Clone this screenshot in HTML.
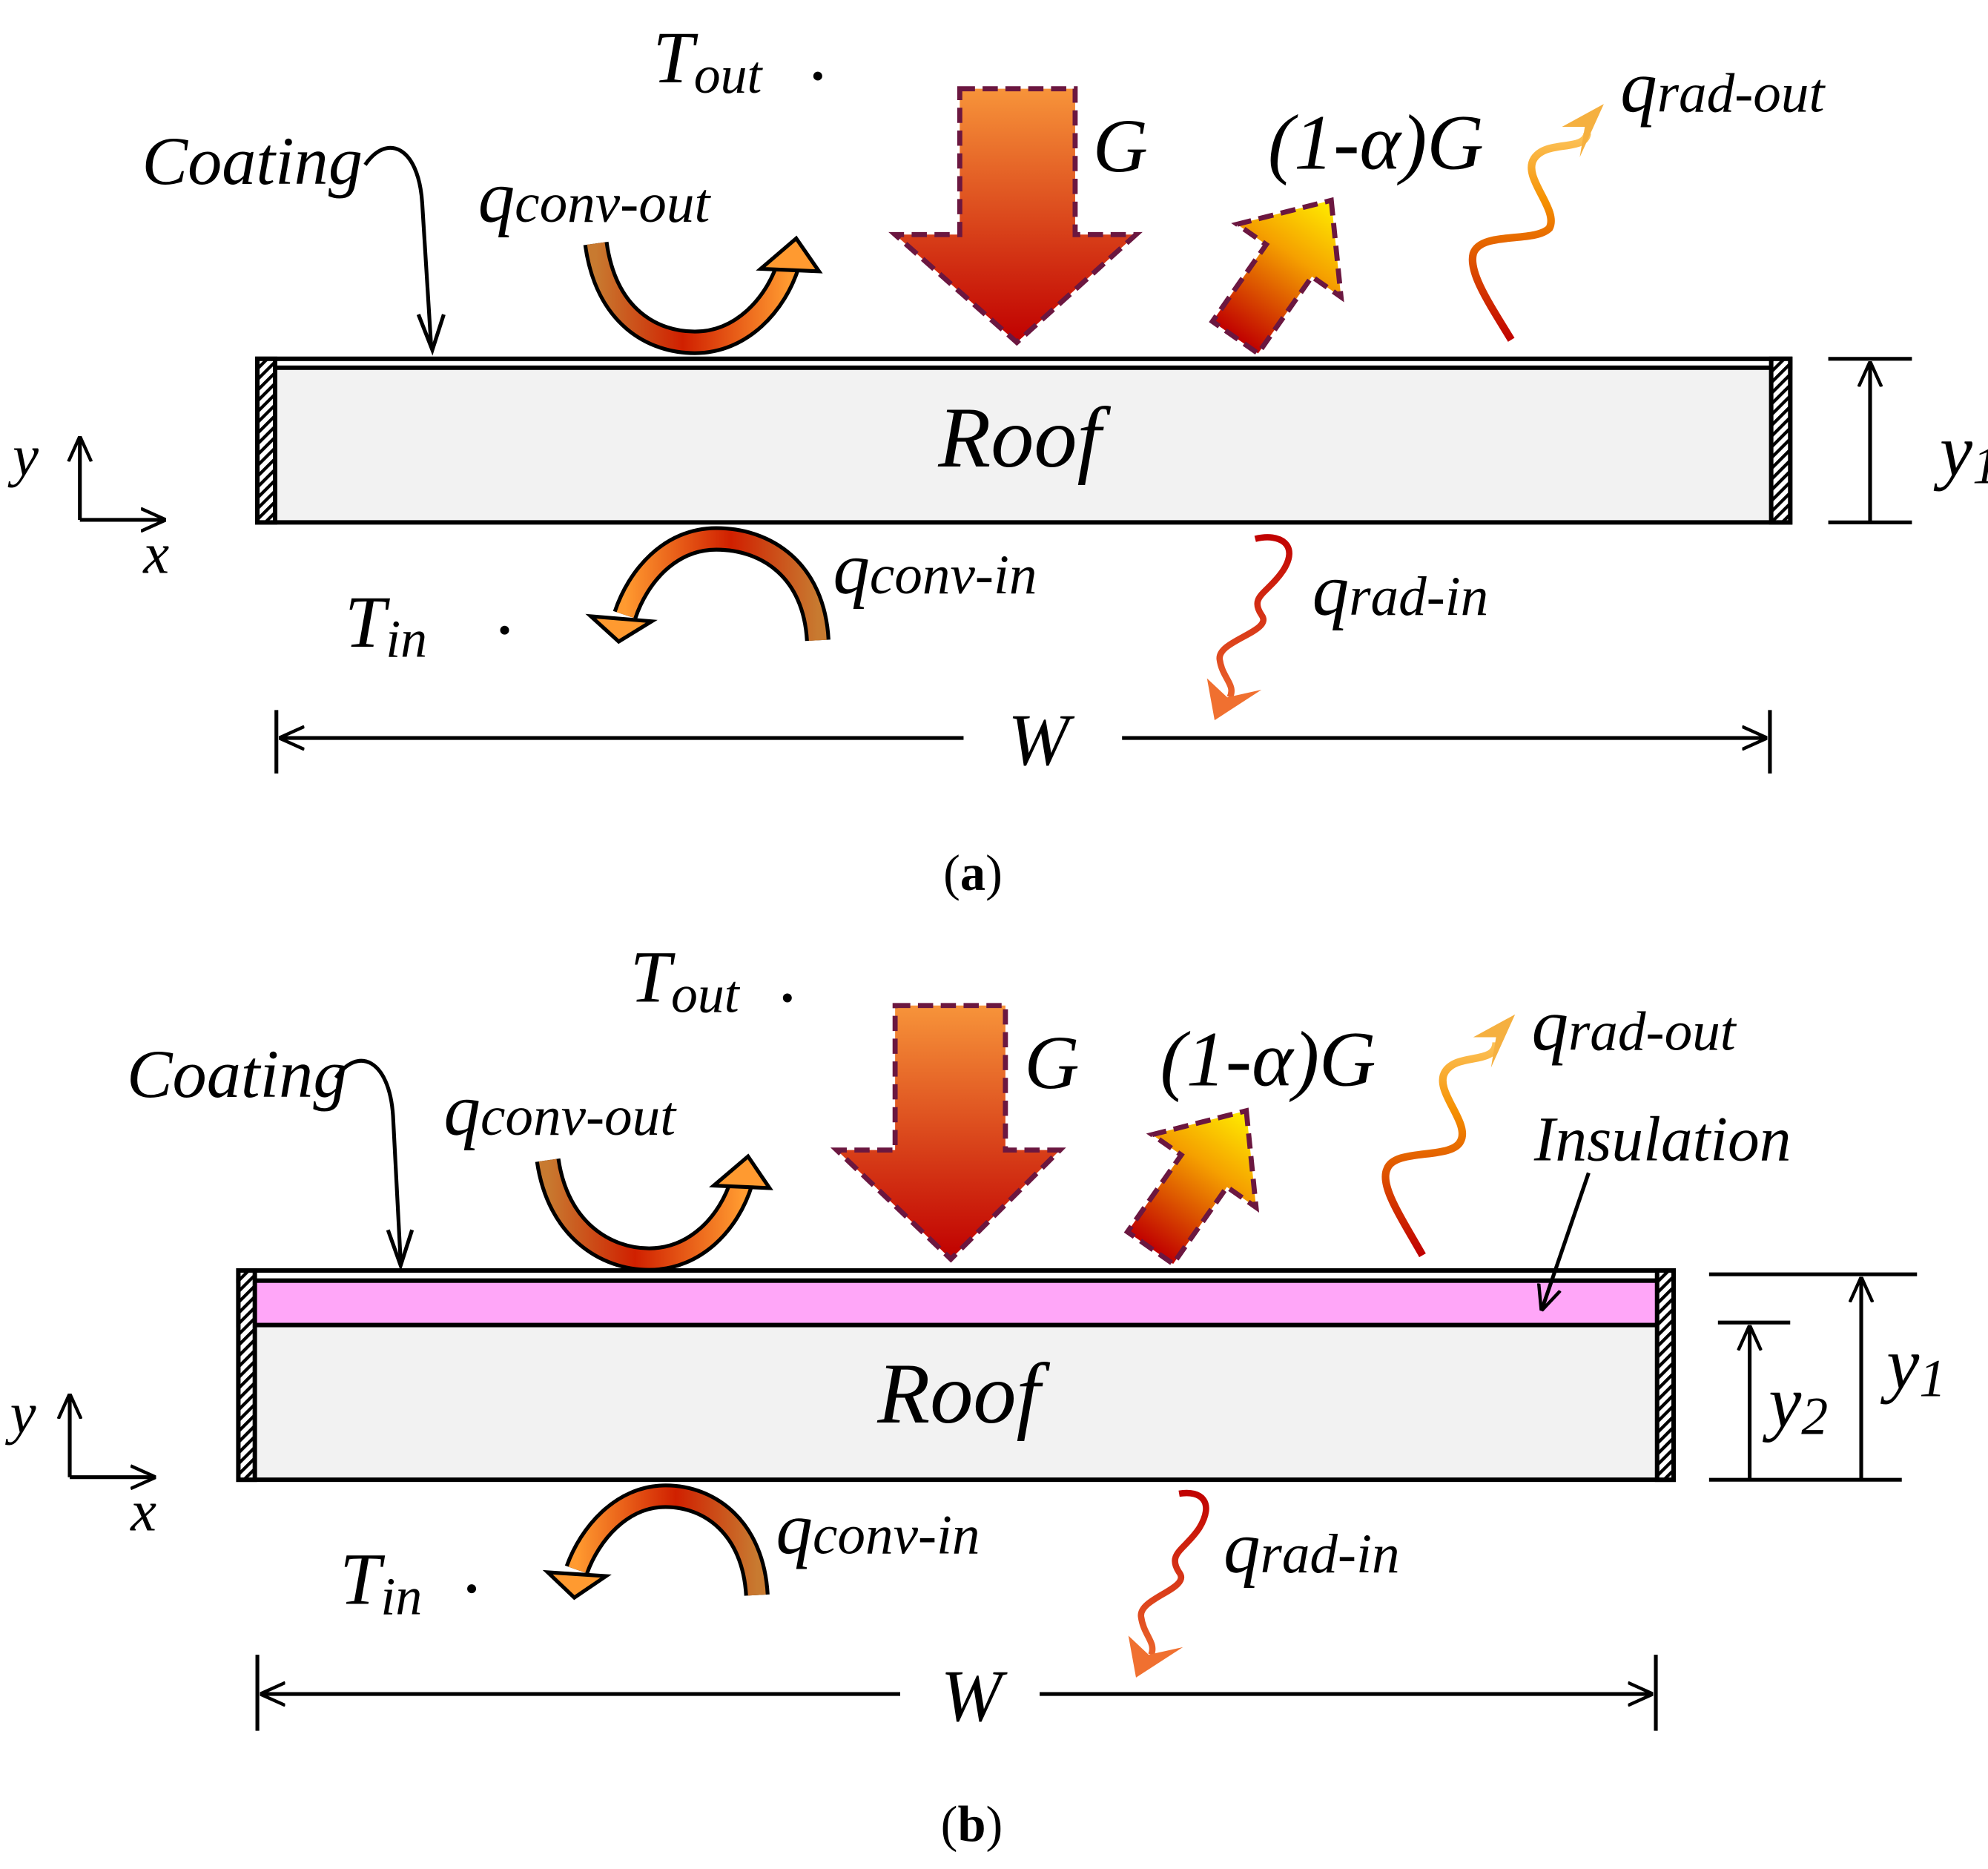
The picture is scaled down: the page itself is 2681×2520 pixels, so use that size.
<!DOCTYPE html>
<html><head><meta charset="utf-8"><style>
html,body{margin:0;padding:0;background:#fff}
svg{display:block}
text{font-family:"Liberation Serif",serif;font-style:italic;fill:#000}
</style></head><body>
<svg width="2681" height="2520" viewBox="0 0 1568 1474" preserveAspectRatio="none" xmlns="http://www.w3.org/2000/svg">
<defs>
<linearGradient id="gv" x1="0" y1="0" x2="0" y2="1"><stop offset="0" stop-color="#f7943a"/><stop offset="1" stop-color="#c00000"/></linearGradient>
<linearGradient id="gd" x1="0" y1="0" x2="0" y2="1"><stop offset="0" stop-color="#ffee00"/><stop offset="0.4" stop-color="#f5a000"/><stop offset="1" stop-color="#c00000"/></linearGradient>
<linearGradient id="gu" x1="0" y1="0" x2="1" y2="0"><stop offset="0" stop-color="#c87a30"/><stop offset="0.45" stop-color="#d02000"/><stop offset="1" stop-color="#ff9a30"/></linearGradient>
<linearGradient id="gu2" x1="0" y1="0" x2="1" y2="0"><stop offset="0" stop-color="#ff9a30"/><stop offset="0.55" stop-color="#d02000"/><stop offset="1" stop-color="#c87a30"/></linearGradient>
<linearGradient id="gw1" gradientUnits="userSpaceOnUse" x1="0" y1="270" x2="0" y2="85"><stop offset="0" stop-color="#c00000"/><stop offset="0.6" stop-color="#f59000"/><stop offset="1" stop-color="#ffd880"/></linearGradient>
<linearGradient id="gw2" gradientUnits="userSpaceOnUse" x1="0" y1="990" x2="0" y2="800"><stop offset="0" stop-color="#c00000"/><stop offset="0.6" stop-color="#f59000"/><stop offset="1" stop-color="#ffd880"/></linearGradient>
<linearGradient id="gr1" gradientUnits="userSpaceOnUse" x1="0" y1="420" x2="0" y2="565"><stop offset="0" stop-color="#c00000"/><stop offset="1" stop-color="#f07030"/></linearGradient>
<linearGradient id="gr2" gradientUnits="userSpaceOnUse" x1="0" y1="1175" x2="0" y2="1320"><stop offset="0" stop-color="#c00000"/><stop offset="1" stop-color="#f07030"/></linearGradient>
<pattern id="hatch" width="6" height="6" patternUnits="userSpaceOnUse" patternTransform="rotate(45)"><rect width="6" height="6" fill="#fff"/><rect width="2.5" height="6" fill="#000"/></pattern>
<marker id="ar" viewBox="0 0 10 10" refX="9.5" refY="5" markerWidth="20" markerHeight="20" orient="auto-start-reverse" markerUnits="userSpaceOnUse"><path d="M0,0.5 L10,5 L0,9.5" fill="none" stroke="#000" stroke-width="1.3"/></marker>
</defs>

<!-- ============ PANEL A ============ -->
<rect x="203" y="283" width="1209" height="129" fill="#f2f2f2" stroke="#000" stroke-width="3.5"/>
<rect x="203" y="283" width="1209" height="7" fill="#fff" stroke="#000" stroke-width="3.5"/>
<rect x="203" y="283" width="14" height="129" fill="url(#hatch)" stroke="#000" stroke-width="3.5"/>
<rect x="1397" y="283" width="15" height="129" fill="url(#hatch)" stroke="#000" stroke-width="3.5"/>
<text x="740" y="368" font-size="68">Roof</text>

<text x="515" y="65" font-size="58">T<tspan font-size="42" dy="8">out</tspan></text>
<circle cx="645" cy="60" r="3.5"/>
<polygon points="757,70 848,70 848,185 896,185 802,270 706,185 757,185" fill="url(#gv)" stroke="#6b1740" stroke-width="4" stroke-dasharray="12,6"/>
<text x="862" y="135" font-size="60">G</text>
<text x="1000" y="133" font-size="62">(1-α)G</text>
<g transform="translate(1050,158) rotate(35)">
<polygon points="0,0 50,58 22,58 22,132 -22,132 -22,58 -50,58" fill="url(#gd)" stroke="#6b1740" stroke-width="4" stroke-dasharray="12,6"/>
</g>
<path d="M1192,268 C1175,240 1158,215 1162,200 C1168,182 1210,192 1222,180 C1230,165 1200,140 1210,125 C1220,110 1250,120 1252,105" fill="none" stroke="url(#gw1)" stroke-width="6"/>
<polygon points="1265,82 1232,100 1250,100 1246,124" fill="#f5b040"/>
<text x="1278" y="88" font-size="58">q<tspan font-size="44">rad-out</tspan></text>
<text x="112" y="145" font-size="54">Coating</text>
<path d="M288,130 C305,105 330,115 333,160 L340,272" fill="none" stroke="#000" stroke-width="3"/>
<path d="M330,248 L341,276 L350,248" fill="none" stroke="#000" stroke-width="3"/>
<text x="377" y="175" font-size="58">q<tspan font-size="44">conv-out</tspan></text>
<path d="M470,192 C478,250 515,270 548,270 C585,270 612,240 622,208" fill="none" stroke="#000" stroke-width="20"/>
<path d="M470,192 C478,250 515,270 548,270 C585,270 612,240 622,208" fill="none" stroke="url(#gu)" stroke-width="14"/>
<polygon points="600,212 646,214 628,188" fill="#ff9a30" stroke="#000" stroke-width="3"/>
<line x1="1442" y1="283" x2="1508" y2="283" stroke="#000" stroke-width="3"/>
<line x1="1442" y1="412" x2="1508" y2="412" stroke="#000" stroke-width="3"/>
<line x1="1475" y1="412" x2="1475" y2="286" stroke="#000" stroke-width="3" marker-end="url(#ar)"/>
<text x="1530" y="375" font-size="58">y<tspan font-size="42" dy="6">1</tspan></text>
<line x1="63" y1="410" x2="63" y2="345" stroke="#000" stroke-width="3" marker-end="url(#ar)"/>
<line x1="63" y1="410" x2="130" y2="410" stroke="#000" stroke-width="3" marker-end="url(#ar)"/>
<text x="10" y="375" font-size="46">y</text>
<text x="113" y="452" font-size="46">x</text>
<path d="M645,505 C642,450 605,425 565,425 C528,425 503,455 493,485" fill="none" stroke="#000" stroke-width="20"/>
<path d="M645,505 C642,450 605,425 565,425 C528,425 503,455 493,485" fill="none" stroke="url(#gu2)" stroke-width="14"/>
<polygon points="466,486 514,490 488,506" fill="#ff9a30" stroke="#000" stroke-width="3"/>
<text x="657" y="468" font-size="58">q<tspan font-size="44">conv-in</tspan></text>
<text x="272" y="510" font-size="58">T<tspan font-size="42" dy="8">in</tspan></text>
<circle cx="398" cy="497" r="3.5"/>
<path d="M990,425 C1010,420 1025,430 1012,450 C1000,468 985,470 995,485 C1005,498 960,505 962,520 C964,535 975,540 970,550" fill="none" stroke="url(#gr1)" stroke-width="5"/>
<polygon points="958,568 952,535 968,550 995,544" fill="#f07030"/>
<text x="1035" y="485" font-size="58">q<tspan font-size="44">rad-in</tspan></text>
<line x1="218" y1="560" x2="218" y2="610" stroke="#000" stroke-width="3"/>
<line x1="1396" y1="560" x2="1396" y2="610" stroke="#000" stroke-width="3"/>
<line x1="760" y1="582" x2="221" y2="582" stroke="#000" stroke-width="3" marker-end="url(#ar)"/>
<line x1="885" y1="582" x2="1393" y2="582" stroke="#000" stroke-width="3" marker-end="url(#ar)"/>
<text x="795" y="603" font-size="58">W</text>
<text x="744" y="702" font-size="40" style="font-style:normal">(<tspan font-weight="bold">a</tspan>)</text>

<!-- ============ PANEL B ============ -->
<rect x="188" y="1002" width="1132" height="165" fill="#f2f2f2" stroke="#000" stroke-width="3.5"/>
<rect x="188" y="1002" width="1132" height="8" fill="#fff" stroke="#000" stroke-width="3.5"/>
<rect x="188" y="1010" width="1132" height="35" fill="#ffa6f8" stroke="#000" stroke-width="3.5"/>
<rect x="188" y="1002" width="13" height="165" fill="url(#hatch)" stroke="#000" stroke-width="3.5"/>
<rect x="1307" y="1002" width="13" height="165" fill="url(#hatch)" stroke="#000" stroke-width="3.5"/>
<text x="692" y="1122" font-size="68">Roof</text>

<text x="497" y="790" font-size="58">T<tspan font-size="42" dy="8">out</tspan></text>
<circle cx="621" cy="787" r="3.5"/>
<polygon points="706,793 793,793 793,907 836,907 750,993 660,907 706,907" fill="url(#gv)" stroke="#6b1740" stroke-width="4" stroke-dasharray="12,6"/>
<text x="808" y="858" font-size="60">G</text>
<text x="915" y="856" font-size="62">(1-α)G</text>
<g transform="translate(983,876) rotate(35)">
<polygon points="0,0 50,58 22,58 22,132 -22,132 -22,58 -50,58" fill="url(#gd)" stroke="#6b1740" stroke-width="4" stroke-dasharray="12,6"/>
</g>
<path d="M1122,990 C1105,960 1088,935 1094,922 C1100,905 1145,915 1152,900 C1160,885 1130,860 1140,845 C1150,830 1180,840 1180,822" fill="none" stroke="url(#gw2)" stroke-width="6"/>
<polygon points="1195,800 1162,818 1180,818 1176,842" fill="#f5b040"/>
<text x="1208" y="828" font-size="58">q<tspan font-size="44">rad-out</tspan></text>
<text x="1210" y="915" font-size="50">Insulation</text>
<line x1="1253" y1="925" x2="1216" y2="1033" stroke="#000" stroke-width="3" marker-end="url(#ar)"/>
<text x="100" y="865" font-size="54">Coating</text>
<path d="M265,850 C282,825 307,835 310,880 L316,995" fill="none" stroke="#000" stroke-width="3"/>
<path d="M306,970 L316,998 L325,970" fill="none" stroke="#000" stroke-width="3"/>
<text x="350" y="895" font-size="58">q<tspan font-size="44">conv-out</tspan></text>
<path d="M432,915 C440,970 478,993 512,993 C548,993 575,965 585,932" fill="none" stroke="#000" stroke-width="20"/>
<path d="M432,915 C440,970 478,993 512,993 C548,993 575,965 585,932" fill="none" stroke="url(#gu)" stroke-width="14"/>
<polygon points="563,935 607,937 590,912" fill="#ff9a30" stroke="#000" stroke-width="3"/>
<line x1="1348" y1="1005" x2="1512" y2="1005" stroke="#000" stroke-width="3"/>
<line x1="1348" y1="1167" x2="1500" y2="1167" stroke="#000" stroke-width="3"/>
<line x1="1355" y1="1043" x2="1412" y2="1043" stroke="#000" stroke-width="3"/>
<line x1="1468" y1="1167" x2="1468" y2="1008" stroke="#000" stroke-width="3" marker-end="url(#ar)"/>
<line x1="1380" y1="1167" x2="1380" y2="1046" stroke="#000" stroke-width="3" marker-end="url(#ar)"/>
<text x="1488" y="1095" font-size="58">y<tspan font-size="42" dy="6">1</tspan></text>
<text x="1395" y="1125" font-size="58">y<tspan font-size="42" dy="6">2</tspan></text>
<line x1="55" y1="1165" x2="55" y2="1100" stroke="#000" stroke-width="3" marker-end="url(#ar)"/>
<line x1="55" y1="1165" x2="122" y2="1165" stroke="#000" stroke-width="3" marker-end="url(#ar)"/>
<text x="8" y="1130" font-size="46">y</text>
<text x="103" y="1207" font-size="46">x</text>
<path d="M597,1258 C594,1205 560,1180 525,1180 C490,1180 465,1210 455,1238" fill="none" stroke="#000" stroke-width="20"/>
<path d="M597,1258 C594,1205 560,1180 525,1180 C490,1180 465,1210 455,1238" fill="none" stroke="url(#gu2)" stroke-width="14"/>
<polygon points="432,1240 478,1243 453,1260" fill="#ff9a30" stroke="#000" stroke-width="3"/>
<text x="612" y="1225" font-size="58">q<tspan font-size="44">conv-in</tspan></text>
<text x="268" y="1265" font-size="58">T<tspan font-size="42" dy="8">in</tspan></text>
<circle cx="372" cy="1253" r="3.5"/>
<path d="M930,1178 C948,1175 958,1185 946,1205 C935,1222 920,1225 930,1240 C940,1253 898,1260 900,1275 C902,1290 912,1295 908,1305" fill="none" stroke="url(#gr2)" stroke-width="5"/>
<polygon points="896,1323 890,1290 906,1305 933,1299" fill="#f07030"/>
<text x="965" y="1240" font-size="58">q<tspan font-size="44">rad-in</tspan></text>
<line x1="203" y1="1305" x2="203" y2="1365" stroke="#000" stroke-width="3"/>
<line x1="1306" y1="1305" x2="1306" y2="1365" stroke="#000" stroke-width="3"/>
<line x1="710" y1="1336" x2="206" y2="1336" stroke="#000" stroke-width="3" marker-end="url(#ar)"/>
<line x1="820" y1="1336" x2="1303" y2="1336" stroke="#000" stroke-width="3" marker-end="url(#ar)"/>
<text x="742" y="1357" font-size="58">W</text>
<text x="742" y="1452" font-size="40" style="font-style:normal">(<tspan font-weight="bold">b</tspan>)</text>
</svg>
</body></html>
